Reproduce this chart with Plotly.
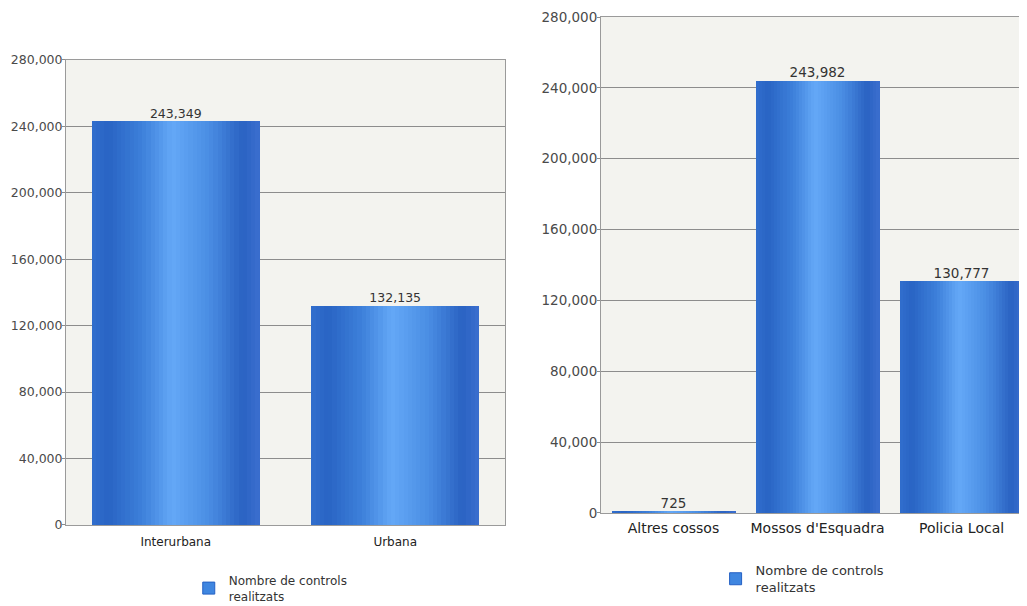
import numpy as np
import plotly.graph_objects as go

# ---- data ----
left_categories = ["Interurbana", "Urbana"]
left_values = [243349, 132135]
right_categories = ["Altres cossos", "Mossos d'Esquadra", "Policia Local"]
right_values = [725, 243982, 130777]
series_name = "Nombre de controls<br>realitzats"
tick_vals = [0, 40000, 80000, 120000, 160000, 200000, 240000, 280000]

# ---- style ----
FONT = "DejaVu Sans"
stops = [(0.0, "#316ecd"), (0.1, "#2964c4"), (0.3, "#3d80da"), (0.48, "#64a8f7"),
         (0.7, "#4a8de3"), (0.9, "#2a62c2"), (1.0, "#3b6fcf")]

def hex2rgb(h):
    h = h.lstrip("#")
    return np.array([int(h[i:i + 2], 16) for i in (0, 2, 4)], dtype=float)

def grad_color(t):
    for (t0, c0), (t1, c1) in zip(stops[:-1], stops[1:]):
        if t0 <= t <= t1:
            f = (t - t0) / (t1 - t0)
            c = hex2rgb(c0) * (1 - f) + hex2rgb(c1) * f
            return "rgb(%d,%d,%d)" % tuple(c.round())
    return stops[-1][1]

N = 40
fig = go.Figure()

def add_panel(cats, vals, bw, xa, ya, legend, lab_size):
    for k in range(N):
        t = (k + 0.5) / N
        fig.add_trace(go.Bar(
            x=cats, y=vals, width=bw / N + 0.002, offset=-bw / 2 + k * bw / N,
            marker=dict(color=grad_color(t), line=dict(width=0)),
            xaxis=xa, yaxis=ya, showlegend=False, hoverinfo="skip",
            legend=legend,
        ))
    fig.add_trace(go.Scatter(
        x=cats, y=vals, mode="text", text=[f"{v:,}" for v in vals],
        textposition="top center", textfont=dict(family=FONT, size=lab_size, color="#333333"),
        xaxis=xa, yaxis=ya, showlegend=False, hoverinfo="skip",
    ))
    # legend entry
    fig.add_trace(go.Bar(
        x=[cats[0]], y=[None], name=series_name,
        marker=dict(color="#3f86e0", line=dict(color="#2460c4", width=1)),
        xaxis=xa, yaxis=ya, showlegend=True, legend=legend,
    ))

add_panel(left_categories, left_values, 0.764, "x", "y", "legend", 12.5)
add_panel(right_categories, right_values, 0.86, "x2", "y2", "legend2", 13.5)

axis_common = dict(showline=True, linecolor="#9a9a9a", linewidth=1, mirror=True,
                   automargin=False)

def yax(size):
    return dict(range=[0, 280000], tickvals=tick_vals, tickformat=",d",
                showgrid=True, gridcolor="#8c8c8c", gridwidth=1, zeroline=False,
                ticks="outside", ticklen=3, tickcolor="#8c8c8c", ticklabelstandoff=-3,
                tickfont=dict(family=FONT, size=size, color="#4a4a4a"), **axis_common)

def xax(size, standoff):
    return dict(showgrid=False, ticks="", ticklabelstandoff=standoff,
                tickfont=dict(family=FONT, size=size, color="#222222"), **axis_common)

legend_common = dict(xanchor="left", yanchor="top",
                     bgcolor="rgba(0,0,0,0)", itemwidth=30)

fig.update_layout(
    width=1027, height=606,
    margin=dict(l=0, r=0, t=0, b=0, autoexpand=False),
    paper_bgcolor="white", plot_bgcolor="#f3f3ef",
    barmode="overlay", bargap=0,
    xaxis=dict(domain=[0.0565, 0.4839], range=[-0.5, 1.5], anchor="y", **xax(12, 6)),
    yaxis=dict(domain=[0.1469, 0.9142], anchor="x", **yax(12.5)),
    xaxis2=dict(domain=[0.5774, 1.0], range=[-0.503, 2.51], anchor="y2", **xax(14, 2)),
    yaxis2=dict(domain=[0.1667, 0.9851], anchor="x2", **yax(13.5)),
    legend=dict(x=0.176, y=0.0792, font=dict(family=FONT, size=12, color="#333333"),
                **legend_common),
    legend2=dict(x=0.689, y=0.0968, font=dict(family=FONT, size=13, color="#333333"),
                 **legend_common),
)

fig.write_html("out.html")
